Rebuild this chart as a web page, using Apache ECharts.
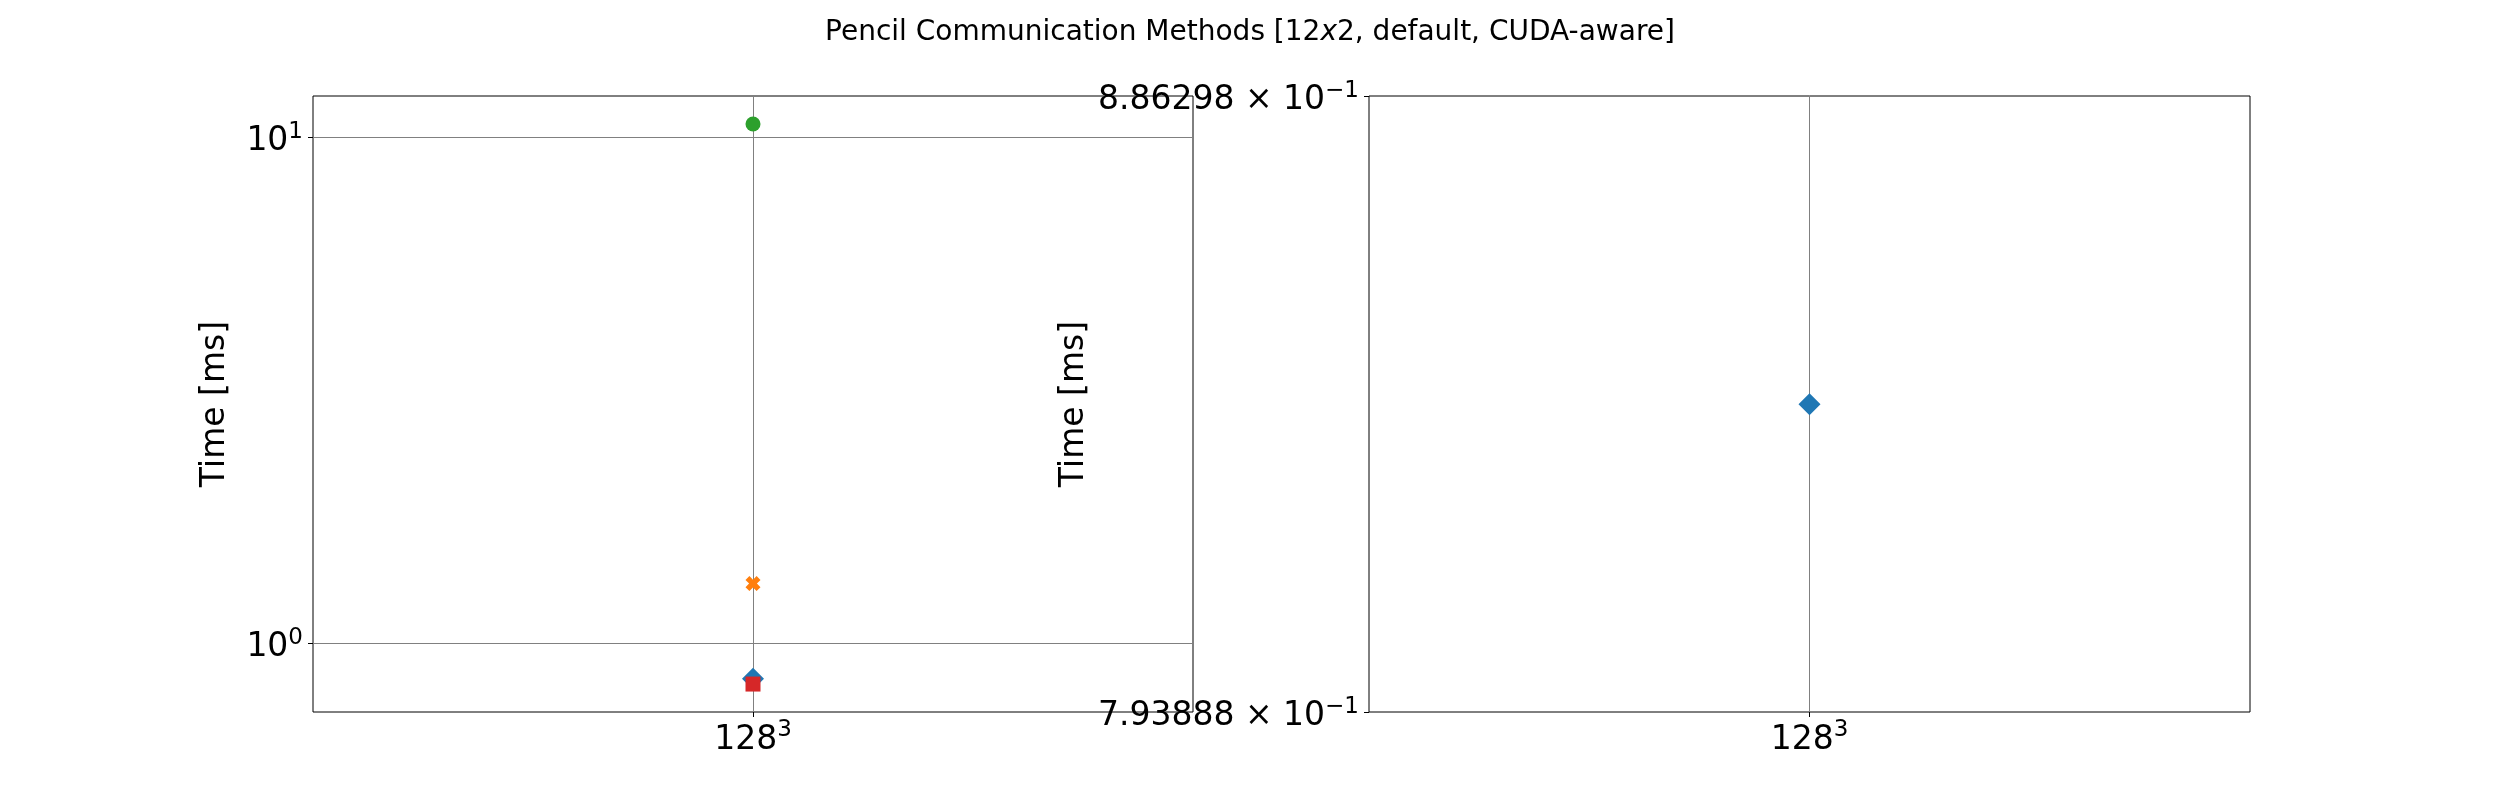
<!DOCTYPE html>
<html><head><meta charset="utf-8">
<script src="https://cdn.jsdelivr.net/npm/echarts@6/dist/echarts.min.js"></script>
<style>html,body{margin:0;padding:0;background:#fff}#c{width:2500px;height:800px}</style>
</head><body><div id="c"></div>
<script>
// ---- data ----
const titleParts = ['Pencil Communication Methods [12', 'x', '2, default, CUDA-aware]'];
const categories = [['128', '3']];
const seriesNames = ['Series 1', 'Series 2', 'Series 3', 'Series 4'];
const leftBlue = [0.850];
const leftOrange = [1.311];
const leftGreen = [10.62];
const leftRed = [0.8296];
const rightBlue = [0.8388];
const leftTicks = [1, 10];
const leftTickLabels = [['10', '0'], ['10', '1']];
const rightTicks = [0.793888, 0.886298];
const rightTickLabels = [['7.93888 × 10', '−1'], ['8.86298 × 10', '−1']];
const leftRange = [0.7305, 12.064];
const rightRange = [0.793888, 0.886298];
const yName = 'Time [ms]';

// ---- styles ----
const FONT = 'DejaVu Sans';
const TICK_FS = 33, SUP_FS = 23;
const richSup = {
  b: { fontFamily: FONT, fontSize: TICK_FS, color: '#000', lineHeight: 42 },
  s: { fontFamily: FONT, fontSize: SUP_FS, color: '#000', verticalAlign: 'top', lineHeight: 23 }
};
const GRIDC = '#808080';
const COLORS = { blue: '#1f77b4', orange: '#ff7f0e', green: '#2ca02c', red: '#d62728' };
const X_PATH = 'path://M0,2.6 L2.6,0 L5,2.4 L7.4,0 L10,2.6 L7.6,5 L10,7.4 L7.4,10 L5,7.6 L2.6,10 L0,7.4 L2.4,5 Z';

function pickLabel(v, ticks, labels) {
  let best = -1, bd = Infinity;
  ticks.forEach((t, i) => { const d = Math.abs(Math.log10(v) - Math.log10(t)); if (d < bd) { bd = d; best = i; } });
  if (best < 0 || bd > 1e-4) return '';
  return '{b|' + labels[best][0] + '}{s|' + labels[best][1] + '}';
}

function xAxisCfg(gridIndex) {
  return {
    type: 'value', gridIndex, min: -0.5, max: 0.5, interval: 0.5, position: 'bottom',
    axisLine: { show: false, onZero: false },
    axisTick: { show: true, customValues: [0], length: 5, lineStyle: { color: '#000', width: 1 } },
    axisLabel: {
      customValues: [0], margin: 7,
      formatter: v => Math.abs(v) < 1e-9 ? '{b|' + categories[0][0] + '}{s|' + categories[0][1] + '}' : '',
      rich: richSup
    },
    splitLine: { show: true, lineStyle: { color: GRIDC, width: 1 } }
  };
}

function yAxisCfg(gridIndex, range, ticks, labels, nameGap, split) {
  return {
    type: 'log', logBase: 10, gridIndex, min: range[0], max: range[1], position: 'left',
    name: yName, nameLocation: 'middle', nameGap,
    nameTextStyle: { fontFamily: FONT, fontSize: 33, color: '#000' },
    axisLine: { show: false, onZero: false },
    axisTick: { show: true, customValues: ticks, length: 5, lineStyle: { color: '#000', width: 1 } },
    axisLabel: {
      customValues: ticks, margin: 10, padding: [9, 0, 0, 0],
      formatter: v => pickLabel(v, ticks, labels),
      rich: richSup
    },
    splitLine: { show: split, lineStyle: { color: GRIDC, width: 1 } },
    minorTick: { show: false }, minorSplitLine: { show: false }
  };
}

function sc(name, data, xi, yi, symbol, size, color) {
  return {
    type: 'scatter', name, xAxisIndex: xi, yAxisIndex: yi,
    data: data.map(v => [0, v]), symbol, symbolSize: size,
    itemStyle: { color, opacity: 1 }, emphasis: { disabled: true }, silent: true
  };
}

const chart = echarts.init(document.getElementById('c'), null, { renderer: 'canvas', width: 2500, height: 800 });
chart.setOption({
  animation: false,
  backgroundColor: '#fff',
  title: {
    text: '{n|' + titleParts[0] + '}{i|' + titleParts[1] + '}{n|' + titleParts[2] + '}',
    left: 'center', top: 14,
    textStyle: {
      fontWeight: 'normal',
      rich: {
        n: { fontFamily: FONT, fontSize: 28, color: '#000', fontWeight: 'normal' },
        i: { fontFamily: FONT, fontSize: 28, color: '#000', fontStyle: 'italic', fontWeight: 'normal' }
      }
    }
  },
  grid: [
    { left: 313, top: 96, width: 880, height: 616, show: true, borderColor: '#000', borderWidth: 1, backgroundColor: 'transparent' },
    { left: 1369, top: 96, width: 881, height: 616, show: true, borderColor: '#000', borderWidth: 1, backgroundColor: 'transparent' }
  ],
  xAxis: [xAxisCfg(0), xAxisCfg(1)],
  yAxis: [
    yAxisCfg(0, leftRange, leftTicks, leftTickLabels, 81, true),
    yAxisCfg(1, rightRange, rightTicks, rightTickLabels, 278, false)
  ],
  series: [
    sc(seriesNames[0], leftBlue, 0, 0, 'diamond', 22, COLORS.blue),
    sc(seriesNames[1], leftOrange, 0, 0, X_PATH, 15, COLORS.orange),
    sc(seriesNames[2], leftGreen, 0, 0, 'circle', 15, COLORS.green),
    sc(seriesNames[3], leftRed, 0, 0, 'rect', 15, COLORS.red),
    sc(seriesNames[0], rightBlue, 1, 1, 'diamond', 22, COLORS.blue)
  ]
});
</script></body></html>
